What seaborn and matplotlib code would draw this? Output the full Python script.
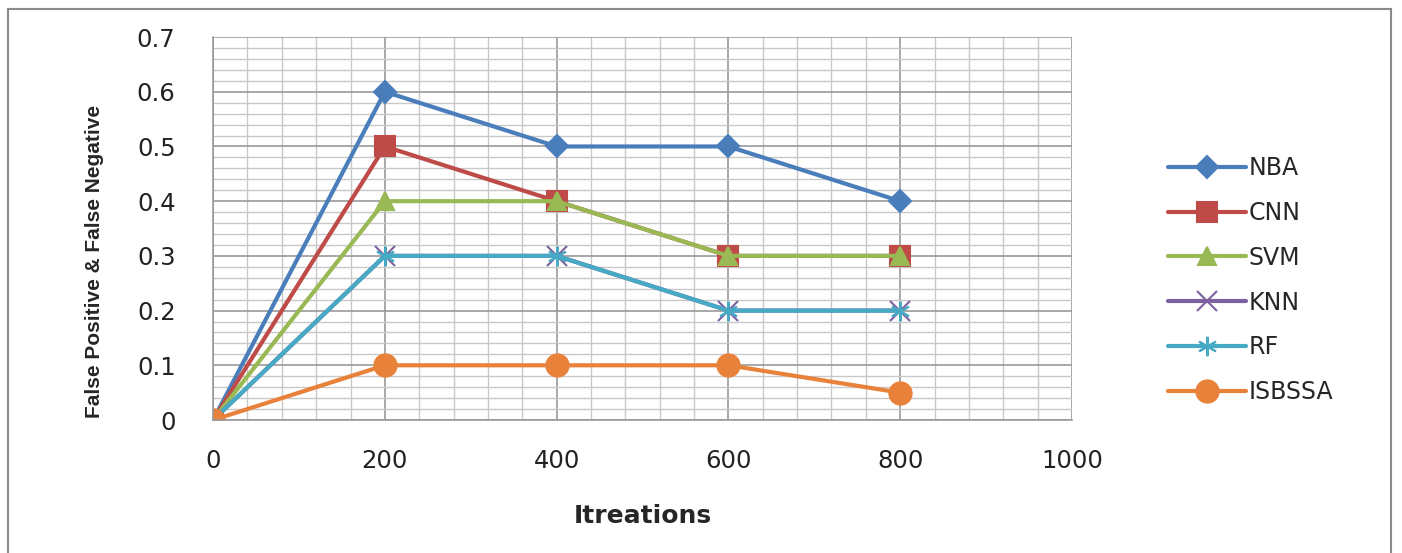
import matplotlib
matplotlib.use("Agg")
import matplotlib.pyplot as plt
from matplotlib.ticker import MultipleLocator, FuncFormatter
from matplotlib.patches import Rectangle
import seaborn as sns
import pandas as pd

# data
iterations = [0, 200, 400, 600, 800]
nba = [0, 0.6, 0.5, 0.5, 0.4]
cnn = [0, 0.5, 0.4, 0.3, 0.3]
svm = [0, 0.4, 0.4, 0.3, 0.3]
knn = [0, 0.3, 0.3, 0.2, 0.2]   # hidden behind RF in the picture
rf = [0, 0.3, 0.3, 0.2, 0.2]
isbssa = [0, 0.1, 0.1, 0.1, 0.05]

series = {"NBA": nba, "CNN": cnn, "SVM": svm, "KNN": knn, "RF": rf, "ISBSSA": isbssa}
colors = {"NBA": "#4A7EBB", "CNN": "#BE4B48", "SVM": "#98B954",
          "KNN": "#7D60A0", "RF": "#46AAC5", "ISBSSA": "#E8823A"}
markers = {"NBA": "D", "CNN": "s", "SVM": "^", "KNN": "x", "RF": (6, 2, 0), "ISBSSA": "o"}
msizes = {"NBA": 11, "CNN": 14, "SVM": 13, "KNN": 14, "RF": 14, "ISBSSA": 16}

sns.set_style("white")
plt.rcParams['font.family'] = ['DejaVu Sans']

fig = plt.figure(figsize=(14.02, 5.53), dpi=100)
ax = fig.add_axes([0.152, 0.2405, 0.6126, 0.6925])

for name, vals in series.items():
    df = pd.DataFrame({"Itreations": iterations, "value": vals})
    sns.lineplot(data=df, x="Itreations", y="value", ax=ax, color=colors[name],
                 linewidth=3, marker=markers[name], markersize=msizes[name],
                 markeredgecolor=colors[name], markeredgewidth=1.5, label=name,
                 legend=False)

ax.set_xlim(0, 1000)
ax.set_ylim(0, 0.7)
ax.xaxis.set_major_locator(MultipleLocator(200))
ax.xaxis.set_minor_locator(MultipleLocator(40))
ax.yaxis.set_major_locator(MultipleLocator(0.1))
ax.yaxis.set_minor_locator(MultipleLocator(0.02))
ax.yaxis.set_major_formatter(FuncFormatter(lambda v, p: f"{v:g}"))
ax.xaxis.set_major_formatter(FuncFormatter(lambda v, p: f"{v:g}"))

ax.grid(which="major", color="#9a9a9a", linewidth=1.2)
ax.grid(which="minor", color="#c8c8c8", linewidth=1.0)
ax.set_axisbelow(True)
ax.tick_params(which="major", direction="out", length=6, width=1.2, color="#9a9a9a",
               labelsize=17.5, labelcolor="#222222")
ax.tick_params(axis="y", pad=21)
ax.tick_params(axis="x", pad=15)
ax.tick_params(which="minor", length=0)
for s in ["top", "right"]:
    ax.spines[s].set_visible(False)
for s in ["left", "bottom"]:
    ax.spines[s].set_color("#9a9a9a")
    ax.spines[s].set_linewidth(1.2)

ax.set_xlabel("Itreations", fontsize=18, fontweight="bold", labelpad=22)
ax.set_ylabel("False Positive & False Negative", fontsize=15, fontweight="bold",
              family=["Liberation Sans", "DejaVu Sans"])
ax.yaxis.set_label_coords(-0.127, 0.414)

handles, labels = ax.get_legend_handles_labels()
fig.legend(handles, labels, loc="upper left", bbox_to_anchor=(0.818, 0.756),
           frameon=False, fontsize=17, handlelength=3.3, handletextpad=0.1,
           labelspacing=0.88)

fig.patches.append(Rectangle((0.006, -0.01), 0.986, 0.993, transform=fig.transFigure,
                             fill=False, edgecolor="#8a8a8a", linewidth=1.5))

fig.savefig("out.png", dpi=100)
